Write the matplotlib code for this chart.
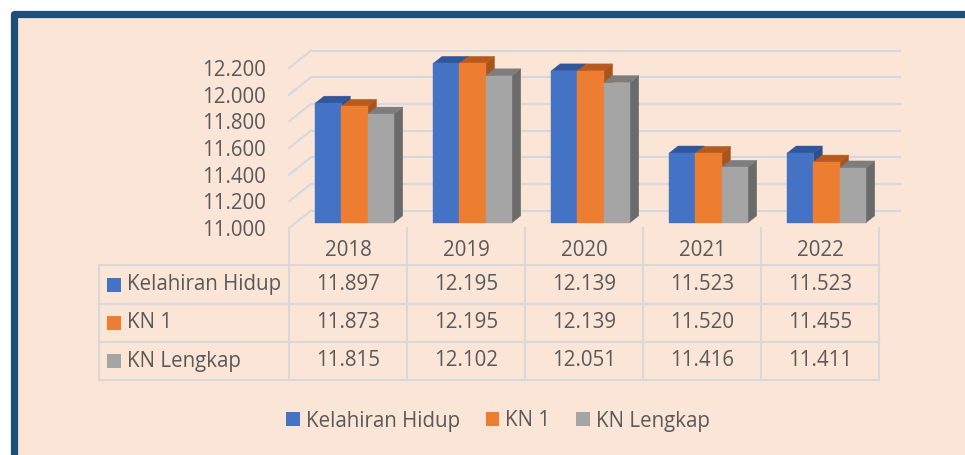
import matplotlib.pyplot as plt
from matplotlib.patches import Polygon, Rectangle, Patch
from matplotlib.transforms import blended_transform_factory

# Data (Indonesian thousands separator in labels)
years = ['2018', '2019', '2020', '2021', '2022']
series_names = ['Kelahiran Hidup', 'KN 1', 'KN Lengkap']
kelahiran_hidup = [11897, 12195, 12139, 11523, 11523]
kn1 = [11873, 12195, 12139, 11520, 11455]
kn_lengkap = [11815, 12102, 12051, 11416, 11411]
y_ticks = [11000, 11200, 11400, 11600, 11800, 12000, 12200]

front_colors = ['#4472c4', '#ed7d31', '#a5a5a5']
top_colors = ['#30569c', '#b85a1e', '#7d7d7d']
side_colors = ['#2d4f8e', '#a8551d', '#6b6b6b']
TXT = '#595959'
GRID = '#d5d9de'
BG = '#fbe5d6'
FS = 14.8

plt.rcParams['font.family'] = ['Open Sans', 'DejaVu Sans']

W, H = 965, 455
fig = plt.figure(figsize=(W / 100, H / 100), dpi=100)
fig.patch.set_facecolor('white')


def fx(px):
    return px / W


def fy(py):
    return 1 - py / H


# peach panel with dark blue frame (cut off at right and bottom)
frame = Rectangle((fx(13.5), fy(520)), fx(1200), fy(13.5) - fy(520),
                  transform=fig.transFigure, facecolor=BG, edgecolor='#1f4e79',
                  linewidth=5.2, joinstyle='round', zorder=-1)
fig.add_artist(frame)

# geometry of the pseudo 3D plot
col_px = 118.0
px_per_unit = 160 / 1200
DX = 22 / col_px          # full depth, x offset in category units
DY = 17.5 / px_per_unit   # full depth, y offset in value units
bw = 1 / 4.5              # bar width (gap width 150%)
f0, f1 = 0.3, 0.7         # bar front / back depth fractions

ax = fig.add_axes([fx(289), fy(228), (5 + DX) * col_px / W, 178 / H])
ax.set_xlim(0, 5 + DX)
ax.set_ylim(11000, 11000 + 178 / px_per_unit)
ax.patch.set_visible(False)
for sp in ax.spines.values():
    sp.set_visible(False)
ax.set_xticks([])
ax.set_yticks(y_ticks)
ax.set_yticklabels([f'{t:,}'.replace(',', '.') for t in y_ticks])
ax.tick_params(axis='y', length=0, pad=16.5, labelsize=FS, labelcolor=TXT)

# back wall gridlines and left wall diagonals
for t in y_ticks:
    ax.plot([DX, 5 + DX], [t + DY, t + DY], color=GRID, lw=1.5, zorder=1,
            clip_on=False, solid_capstyle='butt')
    ax.plot([0, DX], [t, t + DY], color=GRID, lw=1.5, zorder=1, clip_on=False)

# bars
data = [kelahiran_hidup, kn1, kn_lengkap]
ddx = (f1 - f0) * DX
ddy = (f1 - f0) * DY
for i in range(len(years)):
    for s, vals in enumerate(data):
        v = vals[i]
        x0 = i + 0.5 - 1.5 * bw + s * bw + f0 * DX
        x1 = x0 + bw
        b = 11000 + f0 * DY
        t = v + f0 * DY
        z = 3 + s * 0.1
        side = Polygon([(x1, b), (x1, t), (x1 + ddx, t + ddy), (x1 + ddx, b + ddy)],
                       closed=True, facecolor=side_colors[s], edgecolor=side_colors[s],
                       lw=0.3, zorder=z)
        top = Polygon([(x0, t), (x1, t), (x1 + ddx, t + ddy), (x0 + ddx, t + ddy)],
                      closed=True, facecolor=top_colors[s], edgecolor=top_colors[s],
                      lw=0.3, zorder=z + 0.01)
        ax.add_patch(side)
        ax.add_patch(top)
        ax.bar(x0, t - b, bw, bottom=b, align='edge', color=front_colors[s],
               edgecolor=front_colors[s], lw=0.3, zorder=z + 0.02)

# data table below the plot
tr = blended_transform_factory(ax.transData, fig.transFigure)
x_left = (99 - 289) / col_px
row_lines = [265, 304, 342, 380]
row_centers = [284.5, 323, 361]
TBL = '#d9d9d9'
for r in row_lines:
    ax.plot([x_left, 5], [fy(r), fy(r)], color=TBL, lw=1.5, transform=tr,
            clip_on=False, solid_capstyle='projecting')
for c in range(len(years) + 1):
    ax.plot([c, c], [fy(228), fy(380)], color=TBL, lw=1.5, transform=tr, clip_on=False)
ax.plot([x_left, x_left], [fy(265), fy(380)], color=TBL, lw=1.5, transform=tr,
        clip_on=False)

for i, yr in enumerate(years):
    ax.text(i + 0.5, fy(251), yr, transform=tr, ha='center', va='center',
            fontsize=FS, color=TXT)
for s, vals in enumerate(data):
    yc = fy(row_centers[s])
    ax.plot([(114 - 289) / col_px], [yc], marker='s', ms=10, color=front_colors[s],
            transform=tr, clip_on=False, mew=0)
    ax.text((127 - 289) / col_px, yc, series_names[s], transform=tr, ha='left',
            va='center', fontsize=FS, color=TXT)
    for i, v in enumerate(vals):
        ax.text(i + 0.5, yc, f'{v:,}'.replace(',', '.'), transform=tr,
                ha='center', va='center', fontsize=FS, color=TXT)

# legend
handles = [Patch(facecolor=c, edgecolor='none') for c in front_colors]
fig.legend(handles, series_names, loc='center', bbox_to_anchor=(fx(498), fy(421)),
           ncol=3, frameon=False, fontsize=FS, labelcolor=TXT,
           handlelength=0.65, handleheight=0.65, handletextpad=0.3,
           columnspacing=1.25)

fig.savefig('out.png', dpi=100, facecolor=fig.get_facecolor())
